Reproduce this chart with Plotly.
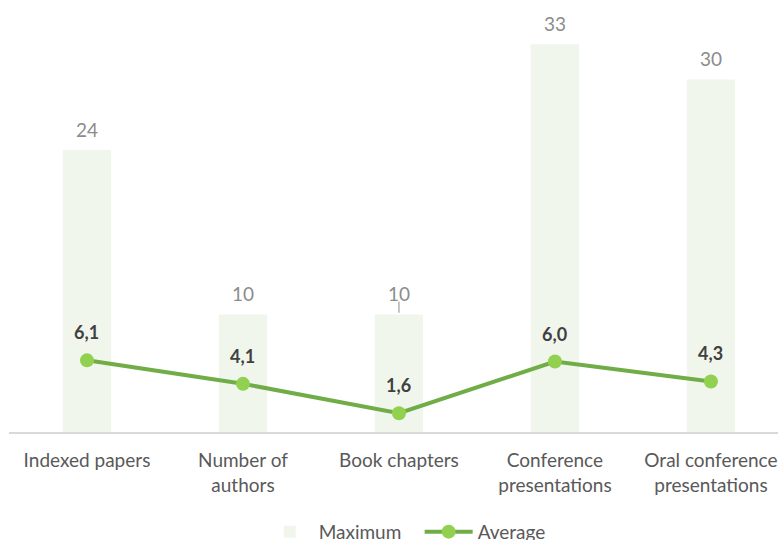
import plotly.graph_objects as go

categories = ["Indexed papers", "Number of<br>authors", "Book chapters",
              "Conference<br>presentations", "Oral conference<br>presentations"]
maximum = [24, 10, 10, 33, 30]
average = [6.1, 4.1, 1.6, 6.0, 4.3]

avg_text = [f"{v:.1f}".replace(".", ",") for v in average]
FONT = "Lato, Open Sans, sans-serif"

fig = go.Figure()
fig.add_trace(go.Bar(
    x=categories, y=maximum, name="Maximum",
    marker=dict(color="#f1f6ed", line=dict(width=0)),
    width=0.31,
))
fig.add_trace(go.Scatter(
    x=categories, y=average, name="Average", mode="lines+markers",
    line=dict(color="#70ad47", width=4),
    marker=dict(color="#92d050", size=14, line=dict(width=0)),
))

annotations = []
for c, m in zip(categories, maximum):
    annotations.append(dict(x=c, y=m, text=str(m), showarrow=False, yshift=21,
                            font=dict(family=FONT, size=19, color="#8c8c8c")))
for c, a, t in zip(categories, average, avg_text):
    annotations.append(dict(x=c, y=a, text=f"<b>{t}</b>", showarrow=False, yshift=28,
                            font=dict(family=FONT, size=18, color="#404040")))

fig.update_layout(
    width=778, height=540,
    margin=dict(l=9, r=0, t=0, b=108, autoexpand=False),
    plot_bgcolor="white", paper_bgcolor="white",
    font=dict(family=FONT, size=19, color="#595959"),
    annotations=annotations,
    showlegend=True,
    legend=dict(orientation="h", x=0.534, xanchor="center", y=-0.187, yanchor="top",
                font=dict(size=19, color="#595959"), traceorder="normal",
                itemwidth=48, entrywidth=96, entrywidthmode="pixels"),
    xaxis=dict(range=[-0.5, 4.43], showgrid=False, showline=True, linecolor="#d9d9d9",
               linewidth=2, ticks="", ticklabelstandoff=10,
               tickfont=dict(size=19, color="#595959")),
    yaxis=dict(range=[0, 36.77], visible=False),
)
fig.add_shape(type="line", xref="x", yref="y", x0=2, x1=2, y0=10.15, y1=11.1,
              line=dict(color="#8c8c8c", width=1))

fig.write_html("out.html")
